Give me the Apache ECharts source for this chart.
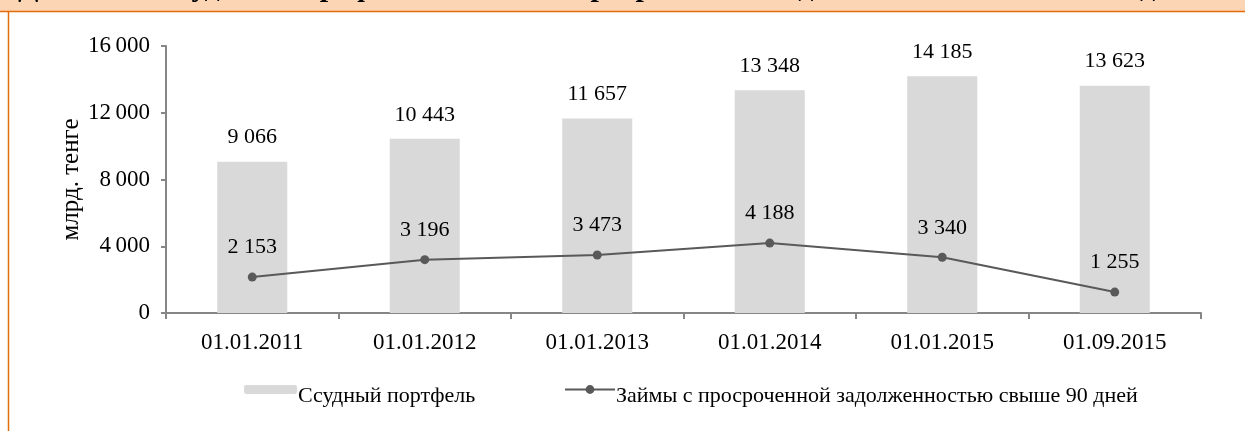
<!DOCTYPE html>
<html>
<head>
<meta charset="utf-8">
<script src="https://cdn.jsdelivr.net/npm/echarts@6/dist/echarts.min.js"></script>
<style>
  html, body { margin: 0; padding: 0; background: #fff; }
  #chart { width: 1245px; height: 431px; }
</style>
</head>
<body>
<div id="chart"></div>
<script>
const dates = ['01.01.2011', '01.01.2012', '01.01.2013', '01.01.2014', '01.01.2015', '01.09.2015']
const loanPortfolio = [9066, 10443, 11657, 13348, 14185, 13623]
const overdueLoans = [2153, 3196, 3473, 4188, 3340, 1255]
const seriesNames = ['Ссудный портфель', 'Займы с просроченной задолженностью свыше 90 дней']
const titleText = 'Динамика ссудного портфеля и займов с просроченной задолженностью свыше 90 дней'

const font = '"Liberation Serif", "Times New Roman", serif'

// 9066 -> "9 066"
const fmt = (v, sep = ' ') => String(v).replace(/\B(?=(\d{3})+(?!\d))/g, sep)

// legend text sits a little lower than its icon
const legendText = {
  fontFamily: font, fontSize: 22, color: '#000', padding: [0, 0, 0, -4],
  rich: { gap: { height: 13, fontSize: 1 }, t: { fontFamily: font, fontSize: 22, color: '#000' } },
}
const legendFormatter = name => '{gap|}\n{t|' + name + '}'

const chart = echarts.init(document.getElementById('chart'))

chart.setOption({
  animation: false,
  textStyle: { fontFamily: font, color: '#000' },
  graphic: [
    { type: 'rect', shape: { x: 0, y: 0, width: 1245, height: 11 }, style: { fill: '#FCD5B5' } },
    {
      type: 'text', x: 18, y: -12,
      style: { text: titleText, font: 'bold 30px ' + font, fill: '#000', verticalAlign: 'middle' }
    },
    { type: 'rect', shape: { x: 0, y: 11, width: 1245, height: 10 }, style: { fill: '#fff' } },
    { type: 'line', shape: { x1: 0, y1: 11.5, x2: 1245, y2: 11.5 }, style: { stroke: '#E46C0A', lineWidth: 1.5 } },
    { type: 'line', shape: { x1: 8.5, y1: 11, x2: 8.5, y2: 431 }, style: { stroke: '#E46C0A', lineWidth: 1.5 } },
  ],
  grid: { left: 166, right: 44, top: 46, bottom: 118 },
  legend: [
    {
      data: [seriesNames[0]],
      left: 244, top: 378, padding: 0,
      itemWidth: 53, itemHeight: 9,
      formatter: legendFormatter,
      textStyle: legendText,
    },
    {
      data: [seriesNames[1]],
      left: 564, top: 378, padding: 0,
      itemWidth: 50, itemHeight: 11,
      formatter: legendFormatter,
      textStyle: legendText,
    },
  ],
  xAxis: {
    type: 'category',
    data: dates,
    axisLine: { lineStyle: { color: '#868686', width: 2 } },
    axisTick: { show: true, length: 6, lineStyle: { color: '#868686', width: 2 } },
    axisLabel: { fontFamily: font, fontSize: 23, color: '#000', margin: 18 },
  },
  yAxis: {
    type: 'value',
    min: 0,
    max: 16000,
    interval: 4000,
    name: 'млрд. тенге',
    nameLocation: 'middle',
    nameGap: 82,
    nameMoveOverlap: false,
    nameTextStyle: { fontFamily: font, fontSize: 25, color: '#000' },
    splitLine: { show: false },
    axisLine: { show: true, lineStyle: { color: '#868686', width: 2 } },
    axisTick: { show: true, length: 5, lineStyle: { color: '#868686', width: 2 } },
    axisLabel: { fontFamily: font, fontSize: 23, color: '#000', margin: 16, formatter: v => fmt(v, '\u2009') },
  },
  series: [
    {
      name: seriesNames[0],
      type: 'bar',
      data: loanPortfolio,
      barWidth: '40.6%',
      itemStyle: { color: '#D9D9D9' },
      label: {
        show: true, position: 'top', distance: 13,
        fontFamily: font, fontSize: 22, color: '#000',
        formatter: p => fmt(p.value),
      },
    },
    {
      name: seriesNames[1],
      type: 'line',
      data: overdueLoans,
      symbol: 'circle',
      symbolSize: 9,
      lineStyle: { color: '#595959', width: 2 },
      itemStyle: { color: '#595959' },
      label: {
        show: true, position: 'top', distance: 14,
        fontFamily: font, fontSize: 22, color: '#000',
        formatter: p => fmt(p.value),
      },
    },
  ],
})
</script>
</body>
</html>
